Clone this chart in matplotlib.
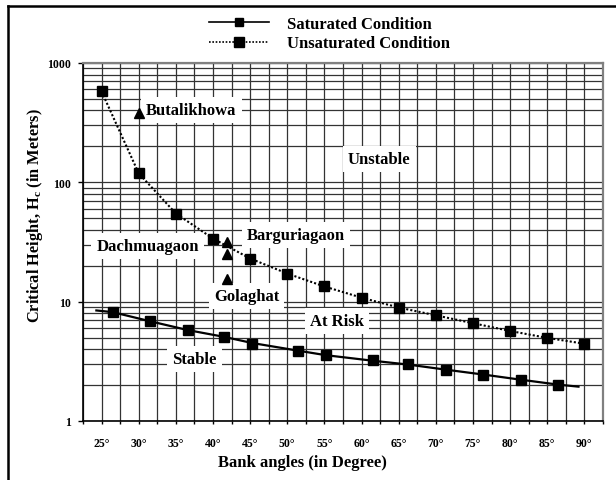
import matplotlib
matplotlib.use("Agg")
import matplotlib.pyplot as plt
from matplotlib.lines import Line2D
from matplotlib.ticker import FixedLocator, NullFormatter

plt.rcParams['font.family'] = ['Liberation Serif', 'DejaVu Serif']
plt.rcParams['mathtext.fontset'] = 'custom'
plt.rcParams['mathtext.bf'] = 'Liberation Serif:bold'
plt.rcParams['mathtext.rm'] = 'Liberation Serif'

# --- data ---
# saturated condition: markers and the fitted curve
sat_x = [26.5, 31.5, 36.6, 41.5, 45.3, 51.4, 55.2, 61.5, 66.3, 71.4, 76.4, 81.4, 86.4]
sat_y = [8.17, 6.86, 5.78, 5.07, 4.44, 3.89, 3.54, 3.22, 2.99, 2.67, 2.43, 2.21, 2.01]
sat_line_x = [24.3, 26.5, 31.5, 36.6, 41.5, 45.3, 51.4, 55.2, 61.5, 66.3, 71.4, 76.4, 81.4, 86.4, 89.2]
sat_line_y = [8.44, 8.17, 6.86, 5.78, 5.07, 4.50, 3.89, 3.56, 3.20, 2.97, 2.69, 2.45, 2.22, 2.02, 1.94]

# unsaturated condition
unsat_x = [25, 30, 35, 40, 45, 50, 55, 60, 65, 70, 75, 80, 85, 90]
unsat_y = [577, 119, 54.8, 33.8, 23.0, 17.2, 13.4, 10.8, 8.93, 7.68, 6.60, 5.68, 4.97, 4.44]

# sites (triangles)
site_x = [30, 41.9, 41.9, 41.9]
site_y = [381, 31.9, 25.3, 15.6]

x_ticks = [25, 30, 35, 40, 45, 50, 55, 60, 65, 70, 75, 80, 85, 90]
x_tick_labels = [f"{t}\u00b0" for t in x_ticks]
y_ticks = [1, 10, 100, 1000]
y_tick_labels = ["1", "10", "100", "1000"]

# text labels: (text, x, y)
labels = [
    ("Butalikhowa", 37.1, 405),
    ("Unstable", 62.4, 157),
    ("Barguriagaon", 51.2, 36.2),
    ("Dachmuagaon", 31.2, 29.3),
    ("Golaghat", 44.5, 11.2),
    ("At Risk", 56.7, 6.89),
    ("Stable", 37.5, 3.31),
]

W, H = 616, 481
fig = plt.figure(figsize=(W / 100, H / 100), dpi=100)
ax = fig.add_axes([83 / W, 1 - 422 / H, (603 - 83) / W, (422 - 64) / H])

ax.set_yscale('log')
ax.set_xlim(22.5, 92.5)
ax.set_ylim(1, 1000)

# ticks and grid
ax.xaxis.set_major_locator(FixedLocator(x_ticks))
ax.set_xticklabels(x_tick_labels)
ax.xaxis.set_minor_locator(FixedLocator([t + 2.5 for t in range(20, 91, 5)]))
ax.yaxis.set_major_locator(FixedLocator(y_ticks))
ax.set_yticklabels(y_tick_labels)
minor_y = [m * d for d in (1, 10, 100) for m in range(2, 10)]
ax.yaxis.set_minor_locator(FixedLocator(minor_y))
ax.yaxis.set_minor_formatter(NullFormatter())

ax.grid(True, which='both', color='#333333', linewidth=0.9, zorder=0)
ax.set_axisbelow(True)

ax.tick_params(axis='x', which='both', direction='out', length=2.5, width=1, pad=9)
ax.tick_params(axis='y', which='major', direction='out', length=3.5, width=1, pad=5)
ax.tick_params(axis='y', which='minor', length=0)
for lab in ax.get_xticklabels() + ax.get_yticklabels():
    lab.set_fontsize(8.5)
    lab.set_fontweight('bold')

ax.spines['left'].set_color('black')
ax.spines['bottom'].set_color('black')
ax.spines['left'].set_linewidth(1.2)
ax.spines['bottom'].set_linewidth(1.2)
for s in ('top', 'right'):
    ax.spines[s].set_color('#808080')
    ax.spines[s].set_linewidth(1.6)

# region / site labels with white boxes over the grid
for text, x, y in labels:
    ax.text(x, y, text, ha='center', va='center', fontsize=12, fontweight='bold',
            zorder=3, bbox=dict(boxstyle='square,pad=0.3', fc='white', ec='none'))

# series
ax.plot(sat_line_x, sat_line_y, color='black', linewidth=1.6, zorder=4)
ax.plot(sat_x, sat_y, linestyle='none', marker='s', color='black', markersize=6.5, zorder=5)
h_sat = Line2D([], [], color='black', linewidth=1.2, marker='s', markersize=5.5)

ax.plot(unsat_x, unsat_y, color='black', linestyle=(0, (1, 1)), linewidth=1.5,
        marker='s', markersize=6.5, zorder=5)
h_unsat = Line2D([], [], color='black', linestyle=(0, (1, 1)), linewidth=1.2,
                 marker='s', markersize=7.5)

ax.plot(site_x, site_y, linestyle='none', marker='^', color='black', markersize=7, zorder=5)

fig.legend([h_sat, h_unsat], ['Saturated Condition', 'Unsaturated Condition'],
           loc='upper left', bbox_to_anchor=(209 / W, 1 - 17 / H), frameon=False,
           handlelength=3.6, handletextpad=1.1, labelspacing=0.2, borderpad=0,
           borderaxespad=0, prop={'weight': 'bold', 'size': 12})

# axis titles
fig.text(302 / W, 1 - 463 / H, 'Bank angles (in Degree)', ha='center', va='center',
         fontsize=12, fontweight='bold')
fig.text(35 / W, 1 - 216 / H, r'Critical Height, H$_\mathbf{c}$ (in Meters)', ha='center',
         va='center', rotation=90, fontsize=11.8, fontweight='bold')

# outer frame (top and left edges)
fig.add_artist(Line2D([8 / W, 1], [1 - 7 / H, 1 - 7 / H], transform=fig.transFigure,
                      color='black', linewidth=1.8))
fig.add_artist(Line2D([8 / W, 8 / W], [0, 1 - 7 / H], transform=fig.transFigure,
                      color='black', linewidth=1.8))

fig.savefig('out.png', dpi=100)
